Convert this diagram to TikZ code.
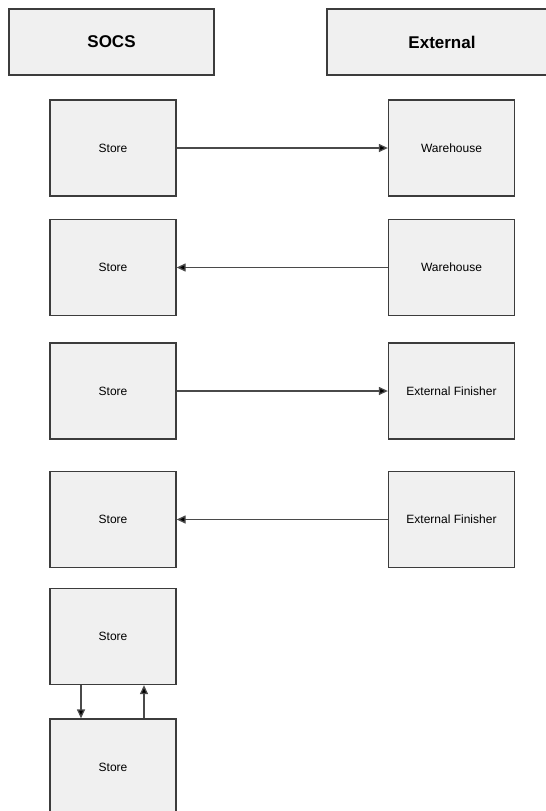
\documentclass[tikz,border=0pt]{standalone}
\usepackage{fontspec}
\setmainfont{Liberation Sans}
\usepackage{tikz}
\usetikzlibrary{arrows.meta}
\definecolor{boxfill}{HTML}{F0F0F0}
\definecolor{boxline}{HTML}{3C3C3C}
\definecolor{flowline}{HTML}{4A4A4A}
\tikzset{
  every unit/.style={
    rectangle,
    draw=boxline,
    fill=boxfill,
    line width=1.3pt,
    minimum width=126pt,
    minimum height=96pt,
    inner sep=0pt,
    font=\fontsize{12}{14}\selectfont
  },
  every header/.style={
    rectangle,
    draw=boxline,
    fill=boxfill,
    line width=1.3pt,
    minimum height=66pt,
    inner sep=0pt,
    font=\fontsize{17}{20}\selectfont\bfseries
  },
  flow/.style={
    draw=flowline,
    line width=1.3pt,
    -{Triangle[length=9pt,width=8pt,fill=black]}
  }
}

\begin{document}
\begin{tikzpicture}[x=1pt, y=-1pt]
  \useasboundingbox (0,0) rectangle (546,811);
  % Node placement
  \node [every header, minimum width=205pt] (H1) at (111.5,42) {SOCS};
  \node [every header, minimum width=230pt] (H2) at (442,42) {External};

  \node [every unit] (S1) at (113,148) {Store};
  \node [every unit] (W1) at (451.5,148) {Warehouse};
  \node [every unit] (S2) at (113,267.5) {Store};
  \node [every unit] (W2) at (451.5,267.5) {Warehouse};
  \node [every unit] (S3) at (113,391) {Store};
  \node [every unit] (F1) at (451.5,391) {External Finisher};
  \node [every unit] (S4) at (113,519.5) {Store};
  \node [every unit] (F2) at (451.5,519.5) {External Finisher};
  \node [every unit] (S5) at (113,636.5) {Store};
  \node [every unit] (S6) at (113,767) {Store};

  % Arrows
  \draw [flow] (S1) -- (W1);
  \draw [flow] (W2) -- (S2);
  \draw [flow] (S3) -- (F1);
  \draw [flow] (F2) -- (S4);
  \draw [flow] ([xshift=-32pt]S5.south) -- ([xshift=-32pt]S6.north);
  \draw [flow] ([xshift=31pt]S6.north) -- ([xshift=31pt]S5.south);
\end{tikzpicture}
\end{document}
